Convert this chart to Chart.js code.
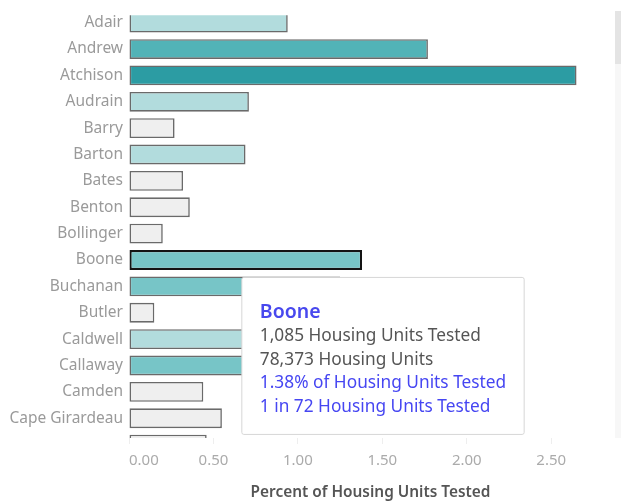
<!DOCTYPE html>
<html>
<head>
<meta charset="utf-8">
<title>Percent of Housing Units Tested</title>
<script src="https://cdn.jsdelivr.net/npm/chart.js@4.4.1/dist/chart.umd.min.js"></script>
<style>
    html, body { margin: 0; padding: 0; background: #fff; }
    #wrap { position: relative; width: 621px; height: 502px; }
    .scroll-track { position: absolute; left: 615px; top: 11px; width: 6px; height: 427px; background: #f7f7f7; }
    .scroll-thumb { position: absolute; left: 0; top: 0; width: 6px; height: 53px; background: #e4e4e4; }
</style>
</head>
<body>
<div id="wrap">
    <canvas id="chart"></canvas>
    <div class="scroll-track"><div class="scroll-thumb"></div></div>
</div>
<script>
// ===== DATA =====
const counties = [
    "Adair", "Andrew", "Atchison", "Audrain", "Barry", "Barton", "Bates", "Benton",
    "Bollinger", "Boone", "Buchanan", "Butler", "Caldwell", "Callaway", "Camden",
    "Cape Girardeau", "Carroll"
];
// percent of housing units tested (Caldwell / Callaway are hidden under the tooltip, estimated)
const percentTested = [
    0.94, 1.77, 2.65, 0.71, 0.27, 0.69, 0.32, 0.36,
    0.20, 1.38, 1.25, 0.15, 0.85, 1.15, 0.44,
    0.55, 0.46
];
const xTicks = [0, 0.5, 1, 1.5, 2, 2.5];

// tooltip numbers for the selected county
const selectedCounty = "Boone";
const selectedUnitsTested = 1085;
const selectedHousingUnits = 78373;

// colour bins (upper bound, fill)
const binLimits = [0.6, 1.0, 1.5, 2.0, Infinity];
const binColors = ["#efefef", "#b2dcdd", "#77c5c7", "#52b3b7", "#2c9ca3"];

function colorFor(v) {
    for (let i = 0; i < binLimits.length; i++) {
        if (v < binLimits[i]) return binColors[i];
    }
    return binColors[binColors.length - 1];
}

const selectedIndex = counties.indexOf(selectedCounty);
const fills = percentTested.map(colorFor);
const borders = counties.map((c) => (c === selectedCounty ? "#141414" : "#6a6a6a"));
const borderWidths = counties.map((c) => (c === selectedCounty ? 2.2 : 1.6));

const fmt = new Intl.NumberFormat("en-US");
const pctText = (selectedUnitsTested / selectedHousingUnits * 100).toFixed(2);
const oneIn = Math.round(selectedHousingUnits / selectedUnitsTested);

// tooltip is placed where the mouse was when the screenshot was taken
Chart.Tooltip.positioners.mousePoint = function (items, eventPosition) {
    return { x: eventPosition.x, y: eventPosition.y };
};

const labelFont = "'Noto Sans', 'Open Sans', sans-serif";
const X_MAX = 2.86;

const chart = new Chart(document.getElementById("chart"), {
    type: "bar",
    data: {
        datasets: [
            {
                data: counties.map((c, i) => ({ x: percentTested[i], y: i })),
                backgroundColor: fills,
                hoverBackgroundColor: fills,
                borderColor: borders,
                hoverBorderColor: borders,
                borderWidth: borderWidths,
                hoverBorderWidth: borderWidths,
                borderSkipped: false,
                barPercentage: 0.94,
                categoryPercentage: 0.8,
            },
        ],
    },
    options: {
        indexAxis: "y",
        responsive: true,
        maintainAspectRatio: false,
        animation: false,
        events: [],
        layout: { padding: { top: 11, right: 9, bottom: 0, left: 0 } },
        plugins: {
            legend: { display: false },
            tooltip: {
                enabled: true,
                position: "mousePoint",
                xAlign: "left",
                yAlign: "top",
                caretSize: 0,
                caretPadding: 0,
                cornerRadius: 2,
                backgroundColor: "#ffffff",
                borderColor: "#d6d6d6",
                borderWidth: 1,
                displayColors: false,
                padding: { top: 24, bottom: 16, left: 18, right: 18 },
                titleColor: "#4848ee",
                titleFont: { family: labelFont, size: 19.5, weight: "600", lineHeight: "22px" },
                titleMarginBottom: 1,
                bodyColor: "#555555",
                bodyFont: { family: labelFont, size: 17.3, lineHeight: "23.5px" },
                bodySpacing: 0,
                callbacks: {
                    title: () => selectedCounty,
                    beforeBody: () => [
                        fmt.format(selectedUnitsTested) + " Housing Units Tested",
                        fmt.format(selectedHousingUnits) + " Housing Units",
                    ],
                    label: () => [
                        pctText + "% of Housing Units Tested",
                        "1 in " + oneIn + " Housing Units Tested",
                    ],
                    labelTextColor: () => "#4646f2",
                },
            },
        },
        scales: {
            x: {
                type: "linear",
                position: "bottom",
                min: 0,
                max: X_MAX,
                offset: false,
                afterBuildTicks: (scale) => {
                    // last (empty) tick at the axis end so 'inner' only shifts the 0.00 label
                    scale.ticks = xTicks.map((v) => ({ value: v })).concat([{ value: X_MAX }]);
                },
                afterFit: (scale) => {
                    scale.height = 64;
                },
                grid: {
                    drawOnChartArea: false,
                    drawTicks: true,
                    tickLength: 6,
                    color: (ctx) => (ctx.tick && ctx.tick.value > xTicks[xTicks.length - 1] ? "rgba(0,0,0,0)" : "#eeeeee"),
                },
                border: { display: false },
                ticks: {
                    padding: 8,
                    align: "inner",
                    color: "#ababab",
                    font: { family: labelFont, size: 15 },
                    callback: (v) => (xTicks.includes(v) ? Number(v).toFixed(2) : ""),
                },
                title: {
                    display: true,
                    text: "Percent of Housing Units Tested",
                    color: "#555555",
                    font: { family: labelFont, size: 15.4, weight: "600" },
                    padding: { top: 0, bottom: 0 },
                },
            },
            y: {
                type: "linear",
                reverse: true,
                offset: false,
                min: -0.28,
                max: 15.75,
                afterBuildTicks: (scale) => {
                    scale.ticks = counties
                        .map((c, i) => ({ value: i }))
                        .filter((t) => t.value >= scale.min && t.value <= scale.max);
                },
                afterFit: (scale) => {
                    scale.width = 129;
                },
                grid: { display: false, drawTicks: false, offset: false },
                border: { display: false },
                ticks: {
                    padding: 6,
                    color: "#9a9a9a",
                    font: { family: labelFont, size: 15.5 },
                    callback: (v) => counties[v] || "",
                },
            },
        },
    },
});

// show the Boone tooltip as in the screenshot
const xScale = chart.scales.x;
const yScale = chart.scales.y;
chart.tooltip.setActiveElements(
    [{ datasetIndex: 0, index: selectedIndex }],
    { x: xScale.getPixelForValue(0.68), y: yScale.getPixelForValue(selectedIndex + 0.66) }
);
chart.update();
</script>
</body>
</html>
